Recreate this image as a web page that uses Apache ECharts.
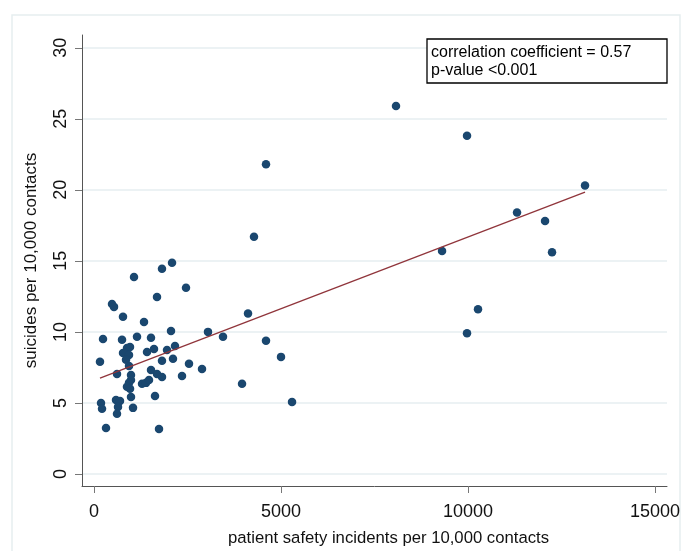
<!DOCTYPE html>
<html>
<head>
<meta charset="utf-8">
<script src="https://cdn.jsdelivr.net/npm/echarts@6/dist/echarts.min.js"></script>
<style>
  html, body { margin: 0; padding: 0; background: #fff; }
  #chart { width: 681px; height: 551px; }
</style>
</head>
<body>
<div id="chart"></div>
<script>
// patient safety incidents per 10,000 contacts
const incidents = [
  8075, 9974, 4599, 13129, 11311, 12060, 4278, 9306, 12247, 10268,
  9974, 4118, 3048, 3449, 4599, 5000, 2888, 3958, 5295, 2086,
  1818, 1070, 2460, 1685, 481, 535, 775, 1337, 2059, 241,
  749, 1150, 1524, 2166, 882, 963, 1952, 1417, 775, 1604,
  936, 2112, 1818, 856, 160, 2540, 936, 1524, 615, 989,
  1685, 1818, 2353, 989, 936, 1284, 1390, 1471, 882, 963,
  1631, 989, 187, 214, 588, 695, 642, 615, 1043, 321,
  1738
];
// suicides per 10,000 contacts
const suicides = [
  25.9, 23.8, 21.8, 20.3, 18.4, 17.8, 16.7, 15.7, 15.6, 11.6,
  9.9, 11.3, 10.0, 9.65, 9.37, 8.24, 7.39, 6.34, 5.07, 14.86,
  14.44, 13.87, 13.1, 12.46, 11.97, 11.76, 11.06, 10.7, 10.07, 9.5,
  9.44, 9.65, 9.58, 9.01, 8.87, 8.94, 8.73, 8.59, 8.52, 8.8,
  8.38, 8.1, 7.96, 8.03, 7.89, 7.75, 7.6, 7.32, 7.04, 6.97,
  7.04, 6.83, 6.9, 6.62, 6.41, 6.34, 6.41, 6.62, 6.13, 5.99,
  5.49, 5.42, 5.0, 4.58, 5.21, 5.14, 4.72, 4.23, 4.65, 3.24,
  3.17
];
// fitted line end points
const fitX = [160, 13129];
const fitY = [6.74, 19.84];

const xTicks = [0, 5000, 10000, 15000];
const yTicks = [0, 5, 10, 15, 20, 25, 30];

const noteLines = ['correlation coefficient = 0.57', 'p-value <0.001'];

const points = incidents.map((v, i) => [v, suicides[i]]);
const fitData = fitX.map((v, i) => [v, fitY[i]]);

const font = 'Liberation Sans, Arial, sans-serif';

let myChart = echarts.init(document.getElementById('chart'));
myChart.setOption({
  backgroundColor: '#fff',
  animation: false,
  grid: { left: 82, right: 14, top: 35, bottom: 65, outerBoundsMode: 'none' },
  xAxis: {
    type: 'value',
    min: -321,
    max: 15321,
    name: 'patient safety incidents per 10,000 contacts',
    nameLocation: 'middle',
    nameGap: 44,
    nameMoveOverlap: false,
    nameTextStyle: { fontFamily: font, fontSize: 16.7, color: '#111', padding: [0, 0, 0, 28] },
    axisLine: { show: true, onZero: false, lineStyle: { color: '#555', width: 1 } },
    axisTick: { show: true, length: 7, lineStyle: { color: '#777' }, customValues: xTicks },
    axisLabel: {
      fontFamily: font, fontSize: 18, color: '#111', margin: 17, customValues: xTicks,
      formatter: v => String(v)
    },
    splitLine: { show: false }
  },
  yAxis: {
    type: 'value',
    min: -0.85,
    max: 30.9,
    name: 'suicides per 10,000 contacts',
    nameLocation: 'middle',
    nameGap: 42,
    nameRotate: 90,
    nameMoveOverlap: false,
    nameTextStyle: { fontFamily: font, fontSize: 17, color: '#111' },
    axisLine: { show: true, onZero: false, lineStyle: { color: '#555', width: 1 } },
    axisTick: { show: true, length: 7, lineStyle: { color: '#777' }, customValues: yTicks },
    axisLabel: { fontFamily: font, fontSize: 18, color: '#111', margin: 12, rotate: 90, customValues: yTicks },
    splitLine: { show: true, lineStyle: { color: '#e6eef0', width: 1.5 } }
  },
  graphic: [
    {
      type: 'rect',
      shape: { x: 12, y: 15, width: 668, height: 560 },
      style: { fill: null, stroke: '#e6eef0', lineWidth: 1.5 },
      silent: true,
      z: -1
    },
    {
      type: 'rect',
      shape: { x: 427, y: 39, width: 240, height: 44 },
      style: { fill: '#fff', stroke: '#000', lineWidth: 1.3 },
      z: 10
    },
    {
      type: 'text',
      x: 431, y: 44,
      style: { text: noteLines.join('\n'), font: '16px ' + font, fill: '#000', lineHeight: 18 },
      z: 11
    }
  ],
  series: [
    {
      type: 'scatter',
      data: points,
      symbol: 'circle',
      symbolSize: 8.5,
      itemStyle: { color: '#1a476f', opacity: 1 }
    },
    {
      type: 'line',
      data: fitData,
      symbol: 'none',
      lineStyle: { color: '#90353b', width: 1.3 },
      z: 3
    }
  ]
}, true);
</script>
</body>
</html>
